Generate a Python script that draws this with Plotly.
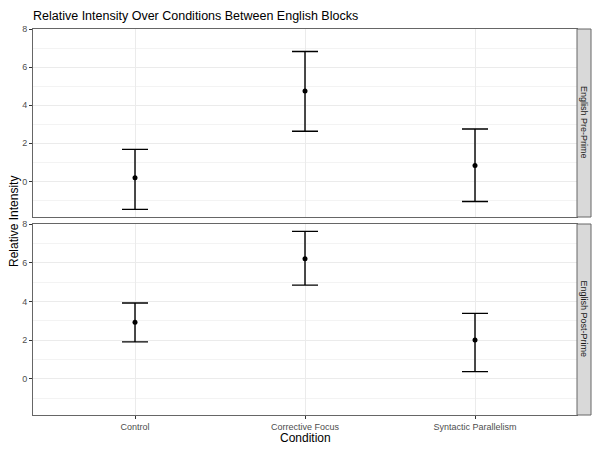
import plotly.graph_objects as go
from plotly.subplots import make_subplots

conditions = ["Control", "Corrective Focus", "Syntactic Parallelism"]
blocks = ["English Pre-Prime", "English Post-Prime"]
means_pre = [0.19, 4.74, 0.84]
lower_pre = [-1.47, 2.63, -1.06]
upper_pre = [1.68, 6.82, 2.75]
means_post = [2.92, 6.20, 2.00]
lower_post = [1.91, 4.84, 0.37]
upper_post = [3.92, 7.62, 3.38]
y_ticks = [0, 2, 4, 6, 8]

FONT = "Liberation Sans, Arial, sans-serif"
# the page body has an 8px margin: keep the figure inside the 600x452 window
W, H = 584, 436
L, T, R, B = 25, 21, 15, 29
STRIP = 14

fig = make_subplots(rows=2, cols=1, shared_xaxes=True, vertical_spacing=0.02)

for r, (m, lo, up) in enumerate([(means_pre, lower_pre, upper_pre),
                                  (means_post, lower_post, upper_post)], start=1):
    fig.add_trace(go.Scatter(
        x=conditions, y=m, mode="markers",
        marker=dict(color="black", size=5),
        error_y=dict(type="data", symmetric=False,
                     array=[u - v for u, v in zip(up, m)],
                     arrayminus=[v - l for v, l in zip(m, lo)],
                     color="black", thickness=1.4, width=13),
        showlegend=False, hoverinfo="skip"), row=r, col=1)

ph = H - T - B
pw = W - L - R
top_dom = [(ph - 188) / ph, 1.0]
bot_dom = [0.0, 191 / ph]

axis_common = dict(showline=True, linecolor="#666666", linewidth=1, mirror=True,
                   gridcolor="#EBEBEB", gridwidth=1, zeroline=False,
                   ticks="outside", ticklen=3, tickcolor="#333333",
                   tickfont=dict(family=FONT, size=9, color="#4D4D4D"))

yax = dict(axis_common, range=[-1.87, 8], tickvals=y_ticks,
           minor=dict(tick0=1, dtick=2, showgrid=True, gridcolor="#F3F3F3", ticks=""))
fig.update_layout(
    yaxis=dict(yax, domain=top_dom),
    yaxis2=dict(yax, domain=bot_dom),
    xaxis=dict(axis_common, range=[-0.6, 2.6], showticklabels=False, ticks=""),
    xaxis2=dict(axis_common, range=[-0.6, 2.6]),
)

sx1 = 1.0 + STRIP / pw
for dom, label in [(top_dom, blocks[0]), (bot_dom, blocks[1])]:
    fig.add_shape(type="rect", xref="paper", yref="paper",
                  x0=1.0, x1=sx1, y0=dom[0], y1=dom[1],
                  fillcolor="#D9D9D9", line=dict(color="#666666", width=1))
    fig.add_annotation(text=label, xref="paper", yref="paper",
                       x=(1.0 + sx1) / 2, y=(dom[0] + dom[1]) / 2, textangle=90,
                       showarrow=False, xanchor="center", yanchor="middle",
                       font=dict(family=FONT, size=9, color="#1A1A1A"))

fig.add_annotation(text="Relative Intensity", xref="paper", yref="paper",
                   x=(6 - L) / pw, y=0.5, textangle=-90, showarrow=False,
                   xanchor="center", yanchor="middle",
                   font=dict(family=FONT, size=12, color="black"))
fig.add_annotation(text="Condition", xref="paper", yref="paper",
                   x=0.5, y=0.0, yshift=-(430 - (H - B)), showarrow=False,
                   xanchor="center", yanchor="middle",
                   font=dict(family=FONT, size=12, color="black"))

fig.update_layout(
    width=W, height=H,
    margin=dict(l=L, r=R, t=T, b=B),
    paper_bgcolor="white", plot_bgcolor="white",
    title=dict(text="Relative Intensity Over Conditions Between English Blocks",
               x=L / W, xanchor="left", y=1 - 8 / H, yanchor="middle",
               font=dict(family=FONT, size=12.5, color="black")),
)

fig.write_html("out.html")
